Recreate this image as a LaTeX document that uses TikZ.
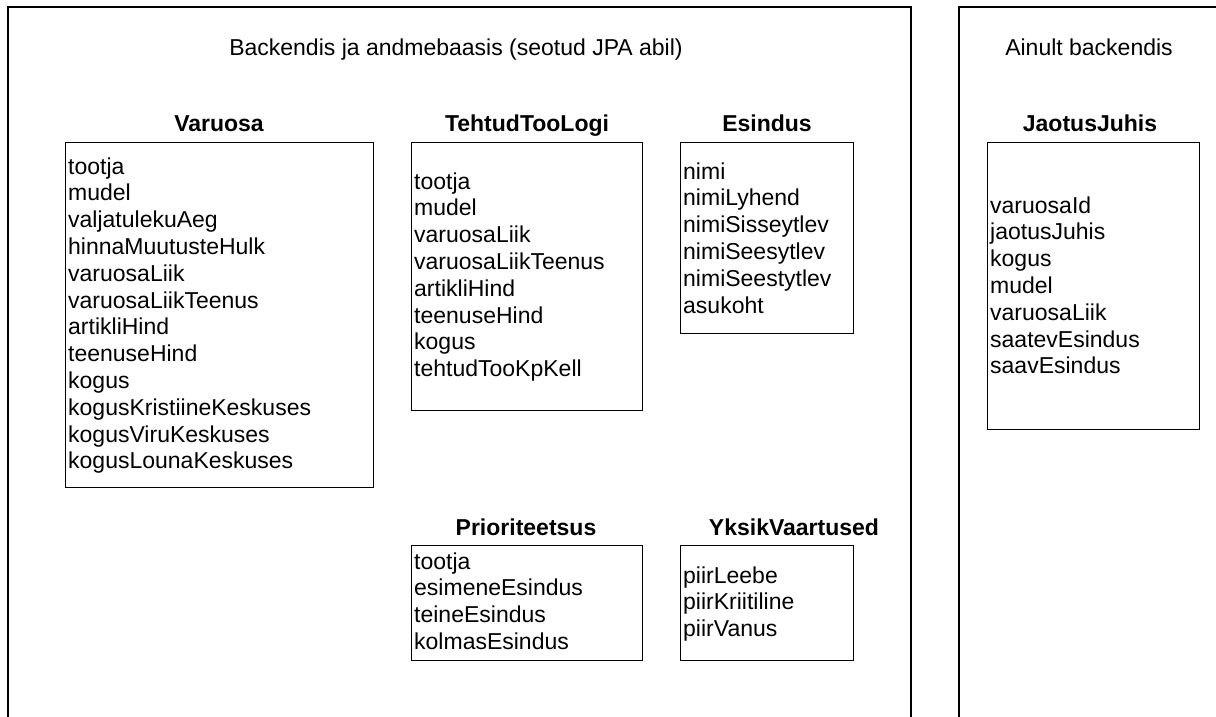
\documentclass[tikz,border=0pt]{standalone}
\usepackage{fontspec}
\setmainfont{Liberation Sans}
\begin{document}
\begin{tikzpicture}[x=1pt,y=-1pt,
  frame/.style={line width=1.3pt, draw=black},
  box/.style={draw=black, line width=1.3pt, rectangle, inner sep=0pt, anchor=north west},
  field/.style={inner sep=0pt, anchor=base west, font=\fontsize{23}{26.8}\selectfont},
  header/.style={inner sep=0pt, anchor=base, font=\fontsize{23}{26.8}\selectfont\bfseries},
  title/.style={inner sep=0pt, anchor=base, font=\fontsize{23}{26.8}\selectfont}]
\useasboundingbox (0,0) rectangle (1216,716);
\clip (0,0) rectangle (1216,716);
\fill[white] (0,0) rectangle (1216,716);
% outer frames (open at bottom / right)
\draw[frame] (8,730) -- (8,7) -- (911,7) -- (911,730);
\draw[frame] (959,730) -- (959,7) -- (1230,7);
\node[title] (t1) at (456,55) {Backendis ja andmebaasis (seotud JPA abil)};
\node[title] (t2) at (1089,55) {Ainult backendis};
% boxes
\node[box, minimum width=308pt, minimum height=345pt] (varBox) at (65,142) {};
\node[box, minimum width=231pt, minimum height=268pt] (tehBox) at (411,142) {};
\node[box, minimum width=173pt, minimum height=191pt] (esiBox) at (680,142) {};
\node[box, minimum width=212pt, minimum height=287pt] (jaoBox) at (987,142) {};
\node[box, minimum width=231pt, minimum height=115pt] (priBox) at (411,545) {};
\node[box, minimum width=173pt, minimum height=115pt] (yksBox) at (680,545) {};
% headers
\node[header] (hVar) at (219,131) {Varuosa};
\node[header] (hTeh) at (527,131) {TehtudTooLogi};
\node[header] (hEsi) at (767,131) {Esindus};
\node[header] (hJao) at (1090,131) {JaotusJuhis};
\node[header] (hPri) at (526,535) {Prioriteetsus};
\node[header] (hYks) at (794,535) {YksikVaartused};
% fields
\foreach \t [count=\i] in {tootja,mudel,valjatulekuAeg,hinnaMuutusteHulk,varuosaLiik,varuosaLiikTeenus,artikliHind,teenuseHind,kogus,kogusKristiineKeskuses,kogusViruKeskuses,kogusLounaKeskuses}
  \node[field] (var\i) at (68,{174+26.8*(\i-1)}) {\t};
\foreach \t [count=\i] in {tootja,mudel,varuosaLiik,varuosaLiikTeenus,artikliHind,teenuseHind,kogus,tehtudTooKpKell}
  \node[field] (teh\i) at (414,{189+26.8*(\i-1)}) {\t};
\foreach \t [count=\i] in {nimi,nimiLyhend,nimiSisseytlev,nimiSeesytlev,nimiSeestytlev,asukoht}
  \node[field] (esi\i) at (683,{179+26.8*(\i-1)}) {\t};
\foreach \t [count=\i] in {varuosaId,jaotusJuhis,kogus,mudel,varuosaLiik,saatevEsindus,saavEsindus}
  \node[field] (jao\i) at (990,{213+26.8*(\i-1)}) {\t};
\foreach \t [count=\i] in {tootja,esimeneEsindus,teineEsindus,kolmasEsindus}
  \node[field] (pri\i) at (414,{569+26.8*(\i-1)}) {\t};
\foreach \t [count=\i] in {piirLeebe,piirKriitiline,piirVanus}
  \node[field] (yks\i) at (683,{583+26.8*(\i-1)}) {\t};
\end{tikzpicture}
\end{document}
